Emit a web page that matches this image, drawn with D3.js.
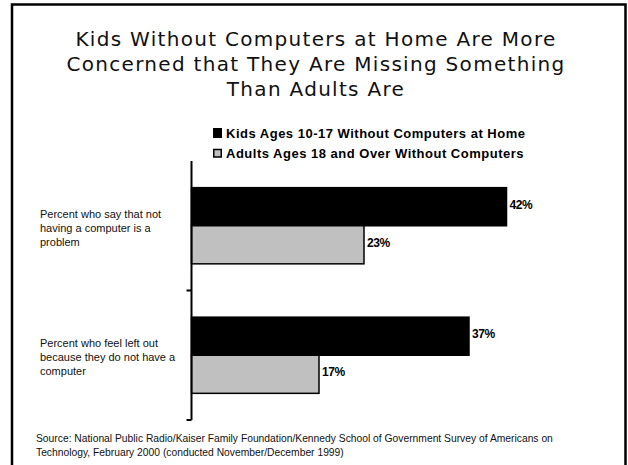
<html>
<head>
<meta charset="UTF-8">
<title>Kids Without Computers</title>
<script src="https://d3js.org/d3.v7.min.js"></script>
<style>
  body { margin: 0; background: #fff; }
  .title { font-family: "DejaVu Sans", Verdana, sans-serif; font-size: 20px; letter-spacing: 1.3px; fill: #111; }
  .legend { font-family: "Liberation Sans", Arial, sans-serif; font-size: 13px; font-weight: bold; letter-spacing: 0.5px; fill: #000; }
  .cat { font-family: "Liberation Sans", Arial, sans-serif; font-size: 11px; fill: #111; }
  .val { font-family: "Liberation Sans", Arial, sans-serif; font-size: 12px; font-weight: bold; fill: #000; letter-spacing: -0.4px; }
  .source { font-family: "Liberation Sans", Arial, sans-serif; font-size: 10.3px; fill: #111; }
</style>
</head>
<body>
<svg width="628" height="465"></svg>
<script>
// data
var categories = [
  ["Percent who say that not", "having a computer is a", "problem"],
  ["Percent who feel left out", "because they do not have a", "computer"]
];
var series = ["Kids Ages 10-17 Without Computers at Home", "Adults Ages 18 and Over Without Computers"];
var kids = [42, 37];
var adults = [23, 17];
var titleLines = ["Kids Without Computers at Home Are More",
                  "Concerned that They Are Missing Something",
                  "Than Adults Are"];
var sourceLines = ["Source: National Public Radio/Kaiser Family Foundation/Kennedy School of Government Survey of Americans on",
                   "Technology, February 2000 (conducted November/December 1999)"];

var colors = ["#000000", "#c0c0c0"];
var svg = d3.select("svg");

// frame
svg.append("path")
  .attr("d", "M12,470 L12,4.5 L625.5,4.5 L625.5,470")
  .attr("fill", "none")
  .attr("stroke", "#000")
  .attr("stroke-width", 2.5);

// title
svg.selectAll(".title")
  .data(titleLines)
  .enter()
  .append("text")
  .attr("class", "title")
  .attr("x", 316)
  .attr("y", (d, i) => 46 + i * 25)
  .attr("text-anchor", "middle")
  .text(d => d);

// scales
var x = d3.scaleLinear().domain([0, 50]).range([191.5, 566.5]);
var idx = categories.map((d, i) => i);
var y0 = d3.scaleBand().domain(idx).range([161, 420]).padding(0);
var y1 = d3.scaleBand().domain([0, 1]).range([0, y0.bandwidth()]).paddingInner(0).paddingOuter(0.7);

var rows = idx.map(i => [kids[i], adults[i]]);

var groups = svg.selectAll(".grp")
  .data(rows)
  .enter()
  .append("g")
  .attr("class", "grp")
  .attr("transform", (d, i) => "translate(0," + y0(i) + ")");

groups.selectAll("rect")
  .data(d => d)
  .enter()
  .append("rect")
  .attr("x", x(0))
  .attr("y", (d, j) => y1(j))
  .attr("width", d => x(d) - x(0))
  .attr("height", y1.bandwidth())
  .attr("fill", (d, j) => colors[j])
  .attr("stroke", "#000")
  .attr("stroke-width", 1.5);

groups.selectAll(".val")
  .data(d => d)
  .enter()
  .append("text")
  .attr("class", "val")
  .attr("x", d => x(d) + 3)
  .attr("y", (d, j) => y1(j) + y1.bandwidth() / 2 - 1)
  .attr("dominant-baseline", "middle")
  .text(d => d + "%");

// category labels
svg.selectAll(".cat")
  .data(categories)
  .enter()
  .append("text")
  .attr("class", "cat")
  .attr("y", (d, i) => y0(i) + y0.bandwidth() / 2 - 8)
  .each(function (d) {
    var t = d3.select(this);
    var y = +t.attr("y");
    d.forEach((line, k) => {
      t.append("tspan").attr("x", 40).attr("y", y + k * 14).text(line);
    });
  });

// axis line with ticks between categories
var ag = svg.append("g").attr("transform", "translate(" + x(0) + ",0)");
ag.append("line")
  .attr("y1", y0.range()[0]).attr("y2", y0.range()[1])
  .attr("stroke", "#000").attr("stroke-width", 2);
ag.selectAll(".tk")
  .data(idx)
  .enter()
  .append("line")
  .attr("x1", -5).attr("x2", 0)
  .attr("y1", i => y0(i) + y0.bandwidth())
  .attr("y2", i => y0(i) + y0.bandwidth())
  .attr("stroke", "#000").attr("stroke-width", 2);

// legend
var lg = svg.selectAll(".lg")
  .data(series)
  .enter()
  .append("g")
  .attr("transform", (d, i) => "translate(213," + (128 + i * 20) + ")");
lg.append("rect")
  .attr("x", (d, i) => i ? 0.75 : 0)
  .attr("y", (d, i) => i ? 1.5 : 0)
  .attr("width", (d, i) => i ? 7.5 : 9)
  .attr("height", (d, i) => i ? 7.5 : 10)
  .attr("fill", (d, i) => colors[i])
  .attr("stroke", "#000")
  .attr("stroke-width", (d, i) => i ? 1.5 : 0);
lg.append("text")
  .attr("class", "legend")
  .attr("x", 13)
  .attr("y", 10)
  .text(d => d);

// source
svg.selectAll(".source")
  .data(sourceLines)
  .enter()
  .append("text")
  .attr("class", "source")
  .attr("x", 36)
  .attr("y", (d, i) => 442 + i * 14)
  .text(d => d);
</script>
</body>
</html>
